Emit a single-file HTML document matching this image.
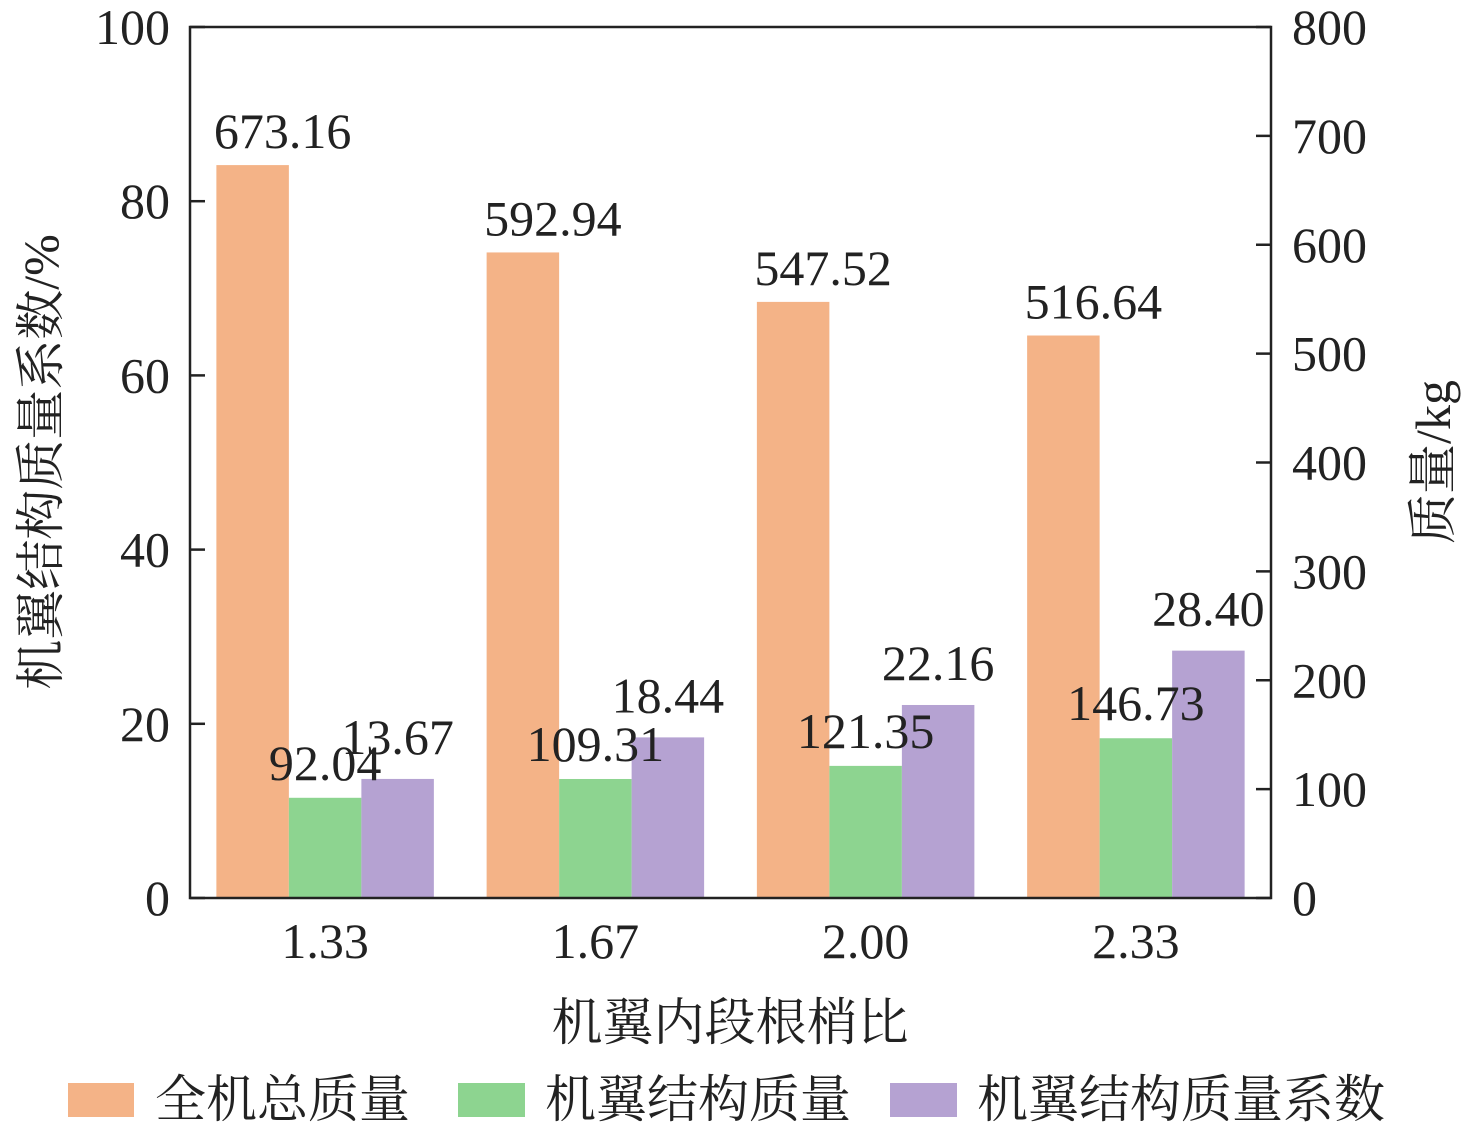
<!DOCTYPE html>
<html><head><meta charset="utf-8"><style>
body{margin:0;background:#fff}
svg text{font-family:"Liberation Serif","Times New Roman","Noto Serif CJK SC",serif;fill:#222}
</style></head><body>
<svg id="c" width="1476" height="1132" viewBox="0 0 1476 1132" xmlns="http://www.w3.org/2000/svg">
<g id="marks"></g>
<g id="labels"></g>
<rect x="190" y="27" width="1081" height="871" fill="none" stroke="#222" stroke-width="2.5"/>
<g id="axes"></g>
<text x="730" y="1040" font-size="51" text-anchor="middle">机翼内段根梢比</text>
<text transform="translate(58,462) rotate(-90)" font-size="50" text-anchor="middle">机翼结构质量系数/%</text>
<text transform="translate(1450,462) rotate(-90)" font-size="50" text-anchor="middle">质量/kg</text>
<g>
<rect x="68" y="1083" width="66" height="34" fill="#F4B387"/>
<text x="155" y="1117" font-size="51">全机总质量</text>
<rect x="458" y="1083" width="67" height="34" fill="#8DD490"/>
<text x="545" y="1117" font-size="51">机翼结构质量</text>
<rect x="890" y="1083" width="67" height="34" fill="#B5A2D2"/>
<text x="977" y="1117" font-size="51">机翼结构质量系数</text>
</g>
</svg>
<script>
const categories=["1.33","1.67","2.00","2.33"];
const totalMass=[673.16,592.94,547.52,516.64];
const structMass=[92.04,109.31,121.35,146.73];
const coefPct=[13.67,18.44,22.16,28.40];
const leftTicks=[0,20,40,60,80,100];
const rightTicks=[0,100,200,300,400,500,600,700,800];
const NS="http://www.w3.org/2000/svg";
const T=27,B=898,L=190,R=1271;
const yL=v=>B-v/100*(B-T);
const yR=v=>B-v/800*(B-T);
const band=(R-L)/categories.length;
const xC=i=>L+band*(i+0.5);
const bw=72.5;
const FS=50;
const marks=document.getElementById('marks'),labels=document.getElementById('labels'),axes=document.getElementById('axes');
function mk(tag,attrs,parent){const e=document.createElementNS(NS,tag);for(const k in attrs)e.setAttribute(k,attrs[k]);parent.appendChild(e);return e;}
function txt(s,x,y,anchor,parent){const e=mk('text',{x:x,y:y,'font-size':FS,'text-anchor':anchor},parent);e.textContent=s;return e;}
categories.forEach((c,i)=>{
  const cx=xC(i);
  const series=[[totalMass[i],yR,'#F4B387','total',totalMass[i].toFixed(2),30,-17],[structMass[i],yR,'#8DD490','structure',structMass[i].toFixed(2),0,-18],[coefPct[i],yL,'#B5A2D2','coef',coefPct[i].toFixed(2),0,-25]];
  series.forEach((s,j)=>{
    const x=cx+(j-1.5)*bw, y=s[1](s[0]);
    const r=mk('rect',{x:x,y:y,width:bw,height:B-y,fill:s[2]},marks);
    
    
    const t=txt(s[4],x+bw/2+s[5],y+s[6],'middle',labels);
    
    
  });
  const t=txt(c,cx,958,'middle',axes);
  
  
});
leftTicks.forEach(v=>{
  const y=yL(v);
  const l=mk('line',{x1:L,x2:L+15,y1:y,y2:y,stroke:'#222','stroke-width':2.5},axes);
  
  
  const t=txt(String(v),170,y+17,'end',axes);
  
  
});
rightTicks.forEach(v=>{
  const y=yR(v);
  const l=mk('line',{x1:R-15,x2:R,y1:y,y2:y,stroke:'#222','stroke-width':2.5},axes);
  
  
  const t=txt(String(v),1292,y+17,'start',axes);
  
  
});
</script>
</body></html>
